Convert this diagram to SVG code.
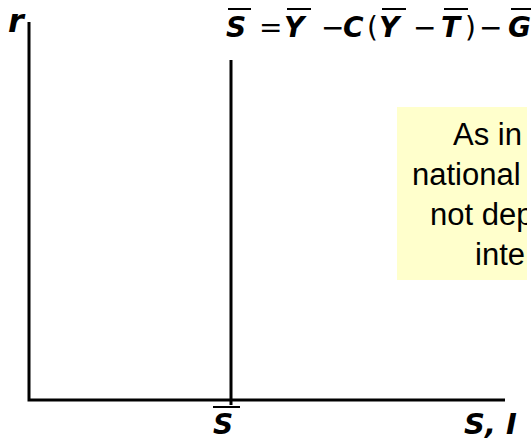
<svg xmlns="http://www.w3.org/2000/svg" width="531" height="440" viewBox="0 0 531 440">
<style>
.v{font-family:"DejaVu Sans",Verdana,sans-serif;font-weight:bold;font-style:italic;fill:#000}
.o{font-family:"DejaVu Sans",Verdana,sans-serif;font-weight:normal;fill:#000}
.ax{stroke:#000;stroke-width:3;fill:none}
.bar{stroke:#000;stroke-width:2}
.note{font-family:"Liberation Sans",Arial,sans-serif;font-size:31px;fill:#000}
</style>
<defs>
<clipPath id="boxclip"><rect x="397" y="107" width="130" height="173"/></clipPath>
</defs>
<g id="connectors">
<polyline class="ax" points="29,22 29,400 505,400"/>
<line class="ax" x1="231" y1="60" x2="231" y2="405"/>
</g>
<g id="axis-r"><text class="v" x="8" y="32" font-size="32">r</text></g>
<g id="equation" font-size="28">
<text class="v" x="226" y="37">S</text>
<text class="o" x="259" y="37">=</text>
<text class="v" x="284" y="37">Y</text>
<text class="o" x="321" y="37">−</text>
<text class="v" x="343" y="37">C</text>
<text class="o" x="367" y="37">(</text>
<text class="v" x="379" y="37">Y</text>
<text class="o" x="413" y="37">−</text>
<text class="v" x="441" y="37">T</text>
<text class="o" x="465" y="37">)</text>
<text class="o" x="479" y="37">−</text>
<text class="v" x="508" y="37">G</text>
<line class="bar" x1="228" y1="9" x2="251" y2="9"/>
<line class="bar" x1="287" y1="9" x2="311" y2="9"/>
<line class="bar" x1="382" y1="9" x2="406" y2="9"/>
<line class="bar" x1="444" y1="9" x2="468" y2="9"/>
<line class="bar" x1="511" y1="9" x2="531" y2="9"/>
</g>
<g id="note">
<rect x="397" y="107" width="130" height="173" fill="#FFFFCC"/>
<g clip-path="url(#boxclip)">
<text class="note" x="453" y="145">As in</text>
<text class="note" x="412" y="185">national</text>
<text class="note" x="430" y="225">not dep</text>
<text class="note" x="475" y="265">inte</text>
</g>
</g>
<g id="label-sbar">
<text class="v" x="213" y="434" font-size="28">S</text>
<line class="bar" x1="213" y1="407" x2="240" y2="407"/>
</g>
<g id="label-si"><text class="v" x="464" y="434" font-size="29">S, I</text></g>
</svg>
